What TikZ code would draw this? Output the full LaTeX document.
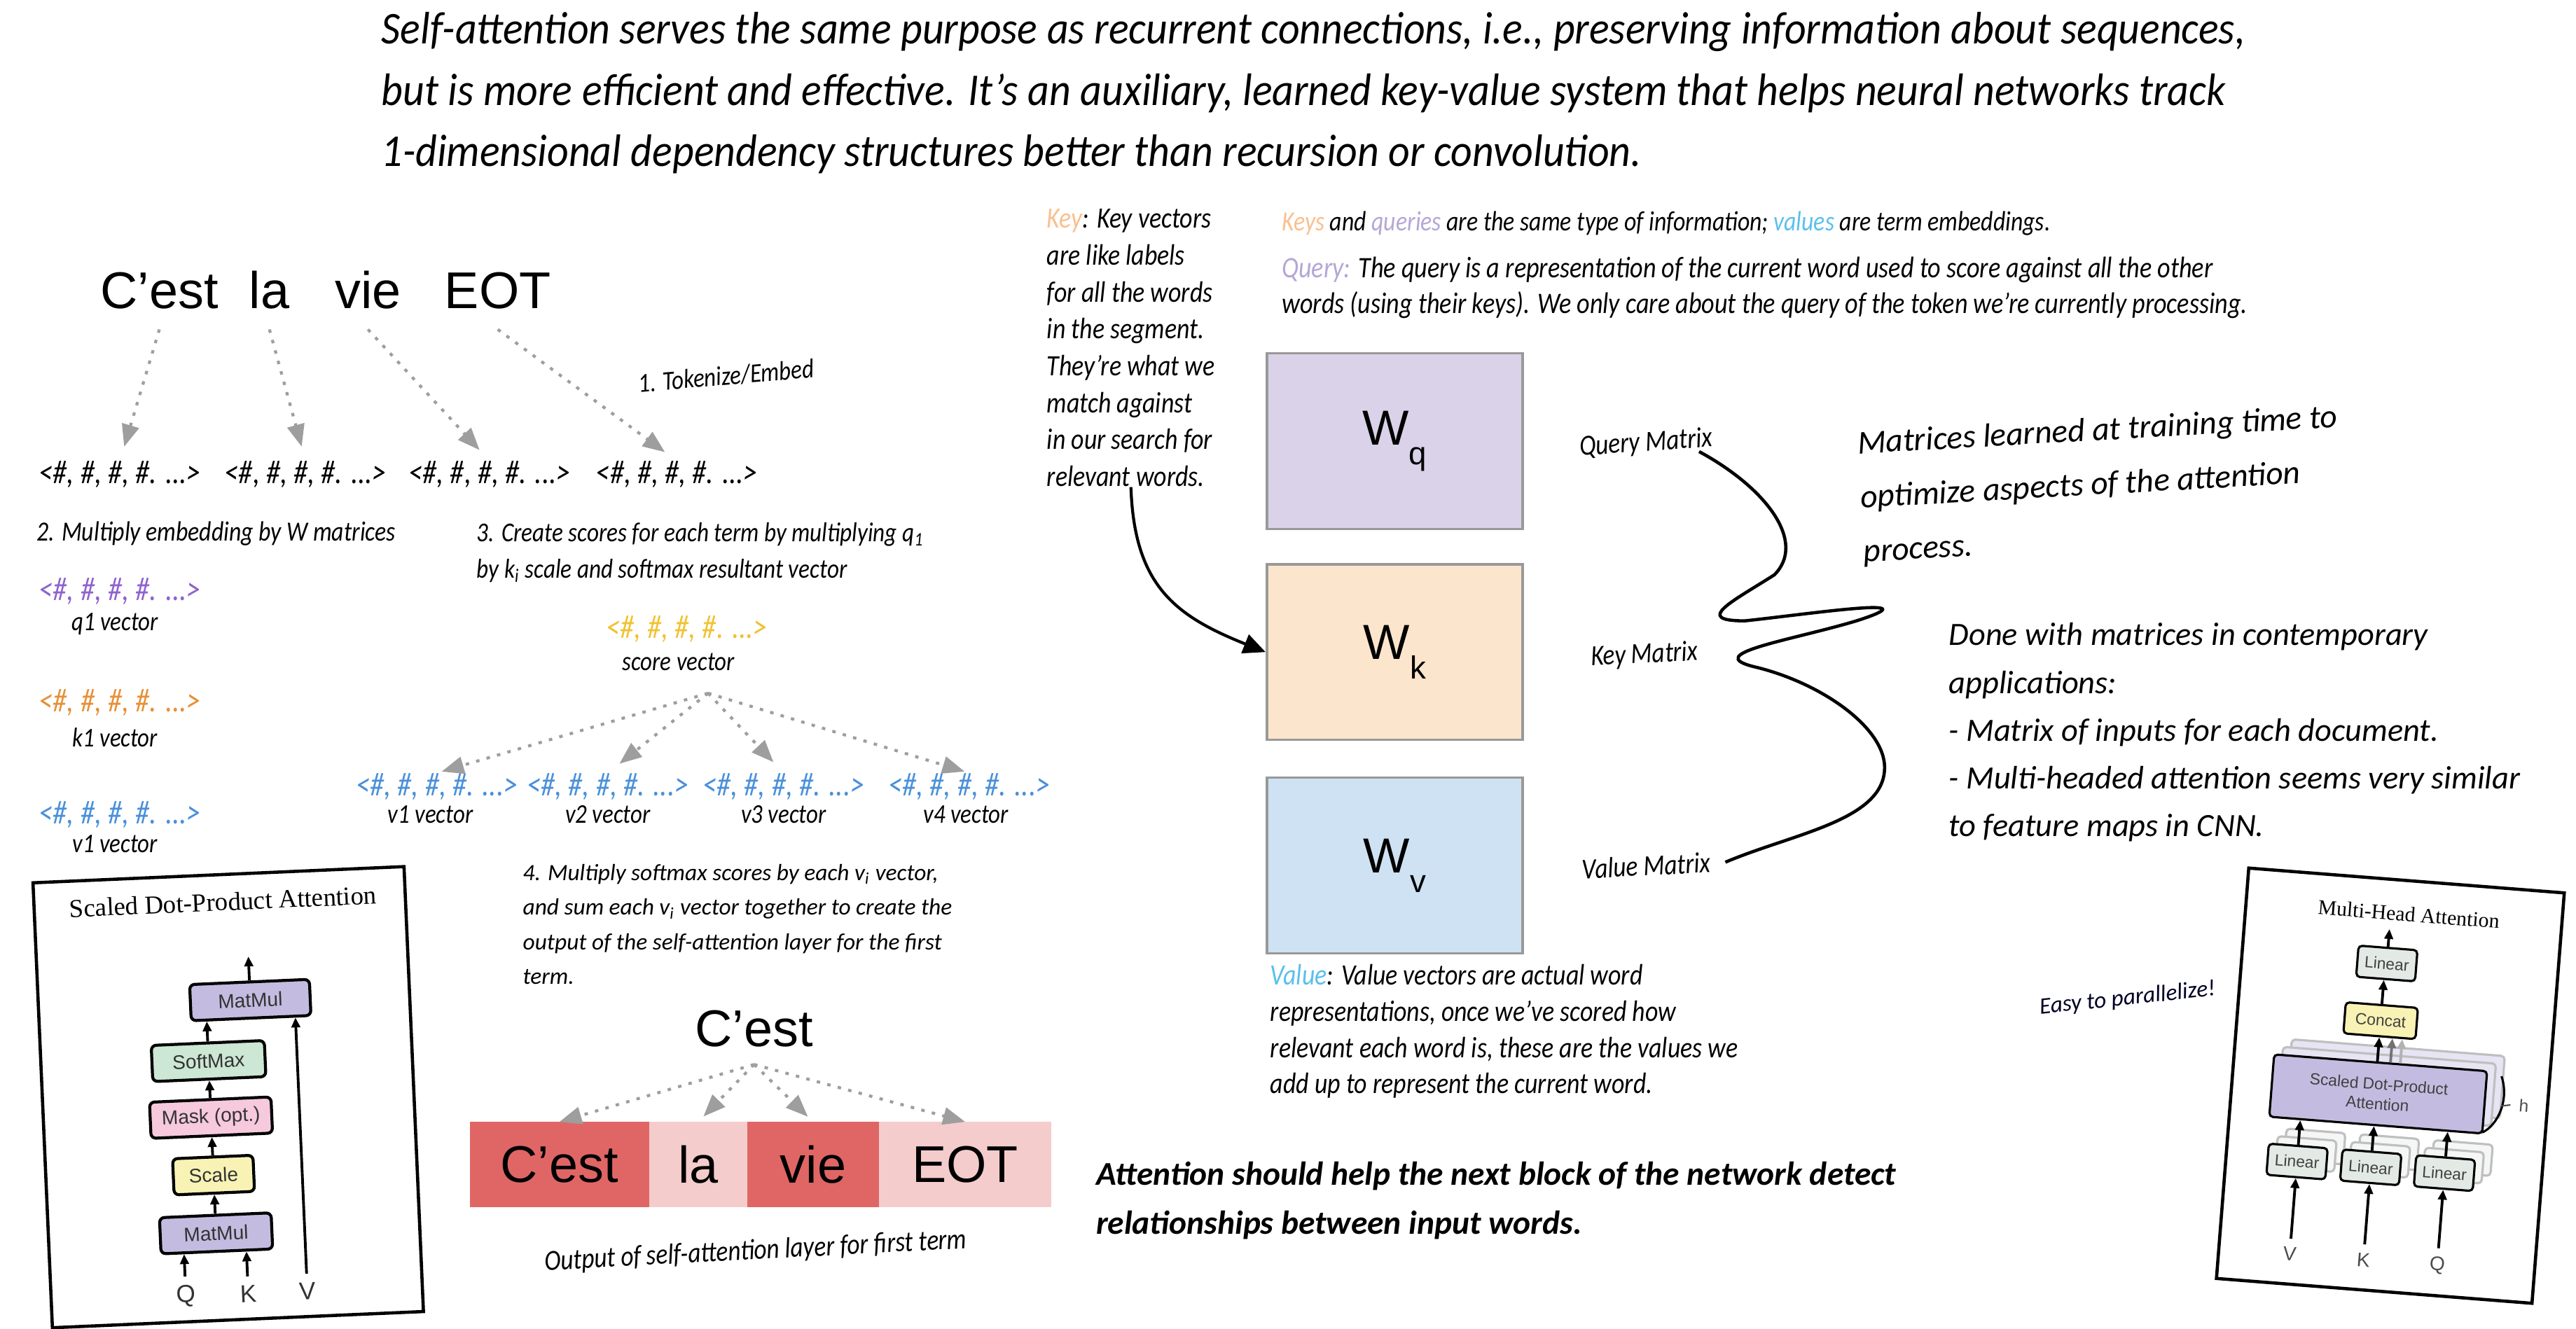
\documentclass[tikz,border=0pt]{standalone}
\usepackage{fontspec}
\setmainfont{Liberation Sans}
\newfontfamily\handfont{Carlito}[FakeStretch=0.85]
\newfontfamily\introfont{Carlito}[FakeStretch=0.92]
\newfontfamily\notefont{Carlito}
\newfontfamily\timesfont{Liberation Serif}
\usetikzlibrary{arrows.meta, positioning}

\definecolor{arrowgray}{HTML}{9E9E9E}
\definecolor{qpurple}{HTML}{8E63CE}
\definecolor{korange}{HTML}{E69138}
\definecolor{vblue}{HTML}{4A90D9}
\definecolor{syellow}{HTML}{F1C232}
\definecolor{keylight}{HTML}{F9C08F}
\definecolor{querylight}{HTML}{B4A7D6}
\definecolor{valuelight}{HTML}{5BC0EB}
\definecolor{attdark}{HTML}{E06666}
\definecolor{attlight}{HTML}{F4CCCC}
\definecolor{wqfill}{HTML}{D9D2E9}
\definecolor{wkfill}{HTML}{FCE5CD}
\definecolor{wvfill}{HTML}{CFE2F3}
\definecolor{mmfill}{HTML}{C4BCE0}
\definecolor{smfill}{HTML}{CCE7D3}
\definecolor{mkfill}{HTML}{F6C9DD}
\definecolor{scfill}{HTML}{F8F3B5}
\definecolor{linfill}{HTML}{E3EAE6}

\newcommand{\hashvec}{<\#, \#, \#, \#. ...>}
\newcommand{\wsub}[1]{\raisebox{-8pt}{\fontsize{13}{13}\selectfont #1}}

\tikzset{
  word/.style={font=\fontsize{21}{25}\selectfont, inner sep=0pt},
  hashv/.style={font=\handfont\itshape\fontsize{13.5}{15}\selectfont, inner sep=0pt},
  vlabel/.style={font=\handfont\itshape\fontsize{11}{12}\selectfont, inner sep=0pt},
  mlabel/.style={font=\handfont\itshape\fontsize{11.8}{13}\selectfont, inner sep=0pt},
  note/.style={font=\handfont\itshape\fontsize{12.1}{14.7}\selectfont, align=left, inner sep=0pt, anchor=north west},
  bignote/.style={font=\notefont\itshape\fontsize{13.5}{21}\selectfont, align=left, inner sep=0pt, anchor=north west},
  dotflow/.style={arrowgray, line width=1.2pt, dash pattern=on 1.4pt off 3pt, -{Triangle[length=9pt, width=7pt]}},
  matbox/.style={draw=black!40, line width=1pt, minimum width=104pt, minimum height=71.4pt, font=\fontsize{20}{24}\selectfont},
  barcell/.style={minimum height=34.7pt, inner sep=0pt, outer sep=0pt, font=\fontsize{21}{25}\selectfont},
  block/.style={draw=black, line width=1.2pt, rounded corners=2pt, font=\fontsize{8}{9}\selectfont, text=black!80, inner sep=0pt, minimum height=14.7pt},
  mblock/.style={draw=black, line width=0.9pt, rounded corners=1.5pt, font=\fontsize{6.5}{8}\selectfont, text=black!75, inner sep=0pt, minimum height=12.7pt, minimum width=24pt},
  ghost/.style={mblock, draw=black!25, fill=#1!40, text=black!0},
  blkarrow/.style={line width=1.1pt, -{Triangle[length=4pt, width=3.5pt]}},
}

\begin{document}
\begin{tikzpicture}[x=0.2346mm, y=-0.2346mm]
  \useasboundingbox (0,0) rectangle (1568,809);

  % intro paragraph
  \node[font=\introfont\itshape\fontsize{18.5}{25}\selectfont, align=left, inner sep=0pt, anchor=north west]
    (intro) at (232,7) {Self-attention serves the same purpose as recurrent connections, i.e., preserving information about sequences,\\
    but is more efficient and effective. It’s an auxiliary, learned key-value system that helps neural networks track\\
    1-dimensional dependency structures better than recursion or convolution.};

  % tokens and embeddings
  \node[word, anchor=base] (tok1) at (97,188) {C’est};
  \node[word, anchor=base] (tok2) at (164,188) {la};
  \node[word, anchor=base] (tok3) at (224,188) {vie};
  \node[word, anchor=base] (tok4) at (303,188) {EOT};

  \node[hashv] (emb1) at (73,289) {\hashvec};
  \node[hashv] (emb2) at (186,289) {\hashvec};
  \node[hashv] (emb3) at (298,289) {\hashvec};
  \node[hashv] (emb4) at (412,289) {\hashvec};

  \draw[dotflow, shorten >=6pt] ([yshift=-8pt]tok1.south) -- (emb1.north);
  \draw[dotflow, shorten >=6pt] ([yshift=-8pt]tok2.south) -- (emb2.north);
  \draw[dotflow, shorten >=6pt] ([yshift=-8pt]tok3.south) -- (emb3.north);
  \draw[dotflow, shorten >=6pt] ([yshift=-8pt]tok4.south) -- (emb4.north);

  \node[vlabel, rotate=5] (tokstep) at (442,229) {1. Tokenize/Embed};

  % step 2: q, k, v of the first term
  \node[note, anchor=west, font=\handfont\itshape\fontsize{11.3}{14.7}\selectfont] (step2) at (22,325) {2. Multiply embedding by W matrices};
  \node[hashv, text=qpurple] (qvec) at (73,360) {\hashvec};
  \node[vlabel] (qlab) at (70,380) {q1 vector};
  \node[hashv, text=korange] (kvec) at (73,428) {\hashvec};
  \node[vlabel] (klab) at (70,449) {k1 vector};
  \node[hashv, text=vblue] (vvec) at (73,496) {\hashvec};
  \node[vlabel] (vlab) at (70,514) {v1 vector};

  % step 3: scores
  \node[note, font=\handfont\itshape\fontsize{11.1}{14.7}\selectfont] (step3) at (290,318) {3. Create scores for each term by multiplying q\textsubscript{1}\\by k\textsubscript{i} scale and softmax resultant vector};
  \node[hashv, text=syellow] (score) at (418,383) {\hashvec};
  \node[vlabel] (scorelab) at (413,403) {score vector};

  \node[hashv, text=vblue] (vv1) at (266,479) {\hashvec};
  \node[hashv, text=vblue] (vv2) at (370,479) {\hashvec};
  \node[hashv, text=vblue] (vv3) at (477,479) {\hashvec};
  \node[hashv, text=vblue] (vv4) at (590,479) {\hashvec};
  \node[vlabel] (vl1) at (262,496) {v1 vector};
  \node[vlabel] (vl2) at (370,496) {v2 vector};
  \node[vlabel] (vl3) at (477,496) {v3 vector};
  \node[vlabel] (vl4) at (588,496) {v4 vector};

  \coordinate (sroot) at ([xshift=12pt, yshift=-9pt]scorelab.south);
  \draw[dotflow, shorten >=2pt] (sroot) -- (vv1.north);
  \draw[dotflow, shorten >=6pt] (sroot) -- (vv2.north);
  \draw[dotflow, shorten >=6pt] (sroot) -- (vv3.north);
  \draw[dotflow, shorten >=2pt] (sroot) -- (vv4.north);

  % step 4: output for the first term
  \node[note, font=\notefont\itshape\fontsize{9.5}{14}\selectfont] (step4) at (318,526)
    {4. Multiply softmax scores by each v\textsubscript{i} vector,\\and sum each v\textsubscript{i} vector together to create the\\output of the self-attention layer for the first\\term.};

  \node[word, anchor=base] (outword) at (459,637) {C’est};
  \node[barcell, fill=attdark, minimum width=72.8pt, anchor=west] (cell1) at (286,709) {C’est};
  \node[barcell, fill=attlight, minimum width=40pt, right=0pt of cell1] (cell2) {la};
  \node[barcell, fill=attdark, minimum width=53.4pt, right=0pt of cell2] (cell3) {vie};
  \node[barcell, fill=attlight, minimum width=70.1pt, right=0pt of cell3] (cell4) {EOT};

  \coordinate (oroot) at ([yshift=-7pt]outword.south);
  \draw[dotflow] (oroot) -- (cell1.north);
  \draw[dotflow, shorten >=3pt] (oroot) -- (cell2.north);
  \draw[dotflow, shorten >=3pt] (oroot) -- (cell3.north);
  \draw[dotflow] (oroot) -- (cell4.north);

  \node[mlabel, rotate=3] (outlab) at (460,762) {Output of self-attention layer for first term};

  % scaled dot-product attention figure
  \begin{scope}[rotate around={2.5:(139,670)}, transform shape]
    \node[draw, line width=1.3pt, minimum width=150.9pt, minimum height=181pt] (sdpa) at (139,668) {};
    \node[font=\timesfont\fontsize{10.5}{12}\selectfont] (sdpatitle) at (141,549) {Scaled Dot-Product Attention};
    \node[block, fill=mmfill, minimum width=48.7pt] (mm2) at (155,609.5) {MatMul};
    \node[block, fill=smfill, minimum width=46pt] (soft) at (128,645.5) {SoftMax};
    \node[block, fill=mkfill, minimum width=49.4pt] (mask) at (128,680) {Mask (opt.)};
    \node[block, fill=scfill, minimum width=32.7pt] (scale) at (128,715) {Scale};
    \node[block, fill=mmfill, minimum width=45.4pt] (mm1) at (128,750.5) {MatMul};
    \node[font=\fontsize{10}{12}\selectfont, text=black!80] (inQ) at (108,788) {Q};
    \node[font=\fontsize{10}{12}\selectfont, text=black!80] (inK) at (146,788) {K};
    \node[font=\fontsize{10}{12}\selectfont, text=black!80] (inV) at (182,788) {V};
    \coordinate (sdpaout) at (155,583);

    \draw[blkarrow] (inQ.north) -- (inQ.north |- mm1.south);
    \draw[blkarrow] (inK.north) -- (inK.north |- mm1.south);
    \draw[blkarrow] (mm1.north) -- (scale.south);
    \draw[blkarrow] (scale.north) -- (mask.south);
    \draw[blkarrow] (mask.north) -- (soft.south);
    \draw[blkarrow] (soft.north) -- (soft.north |- mm2.south);
    \draw[blkarrow] (inV.north) -- (inV.north |- mm2.south);
    \draw[blkarrow] (mm2.north) -- (sdpaout);
  \end{scope}

  % key / query / value notes
  \node[note, font=\handfont\itshape\fontsize{12}{15}\selectfont] (keynote) at (637,127) {{\color{keylight}Key}: Key vectors\\are like labels\\for all the words\\in the segment.\\They’re what we\\match against\\in our search for\\relevant words.};
  \node[note, anchor=west, font=\handfont\itshape\fontsize{11.3}{14.7}\selectfont] (kqline) at (780,136) {{\color{keylight}Keys} and {\color{querylight}queries} are the same type of information; {\color{valuelight}values} are term embeddings.};
  \node[note] (querynote) at (780,156) {{\color{querylight}Query:} The query is a representation of the current word used to score against all the other\\words (using their keys). We only care about the query of the token we’re currently processing.};
  \node[note, font=\handfont\itshape\fontsize{12}{14.7}\selectfont] (valuenote) at (773,587) {{\color{valuelight}Value}: Value vectors are actual word\\representations, once we’ve scored how\\relevant each word is, these are the values we\\add up to represent the current word.};

  % weight matrices
  \node[matbox, fill=wqfill] (Wq) at (849,268.5) {W\wsub{q}};
  \node[matbox, fill=wkfill] (Wk) at (849,397) {W\wsub{k}};
  \node[matbox, fill=wvfill] (Wv) at (849,527) {W\wsub{v}};

  \draw[line width=1.2pt, -{Triangle[length=9pt, width=8pt]}] (keynote.south) .. controls +(2,60) and +(-55,-22) .. (Wk.west);

  \node[mlabel, rotate=4] (qmlab) at (1002,270) {Query Matrix};
  \node[mlabel, rotate=3] (kmlab) at (1001,399) {Key Matrix};
  \node[mlabel, rotate=3] (vmlab) at (1002,527) {Value Matrix};

  \draw[line width=1.3pt] ([xshift=-6pt]qmlab.south east)
    .. controls (1075,297) and (1100,330) .. (1080,350)
    .. controls (1055,366) and (1030,378) .. (1062,378)
    .. controls (1100,374) and (1180,362) .. (1130,378)
    .. controls (1090,390) and (1035,398) .. (1068,406)
    .. controls (1110,416) and (1150,445) .. (1147,470)
    .. controls (1144,500) and (1090,508) .. ([xshift=6pt]vmlab.east);

  % side remarks
  \node[bignote, rotate=3.2, font=\notefont\itshape\fontsize{13.5}{22}\selectfont] (learned) at (1130,262) {Matrices learned at training time to\\optimize aspects of the attention\\process.};
  \node[bignote, font=\notefont\itshape\fontsize{13.2}{19.4}\selectfont] (contemp) at (1186,379) {Done with matrices in contemporary\\applications:\\- Matrix of inputs for each document.\\- Multi-headed attention seems very similar\\to feature maps in CNN.};
  \node[bignote, font=\notefont\bfseries\itshape\fontsize{13.5}{20}\selectfont] (detect) at (667,707) {Attention should help the next block of the network detect\\relationships between input words.};
  \node[font=\notefont\itshape\fontsize{9.5}{11}\selectfont, text=black!85!blue, rotate=6] (easy) at (1295,608) {Easy to parallelize!};

  % multi-head attention figure
  \begin{scope}[rotate around={-4.5:(1455,661)}, transform shape]
    \node[draw, line width=1.3pt, minimum width=128.6pt, minimum height=167.3pt] (mha) at (1455,661) {};
    \node[font=\timesfont\fontsize{8.5}{10}\selectfont] (mhatitle) at (1458,556) {Multi-Head Attention};
    \node[mblock, fill=linfill] (lintop) at (1447,587) {Linear};
    \node[mblock, fill=scfill, minimum width=29.4pt] (concat) at (1446,622) {Concat};
    \node[ghost=mmfill, minimum width=86.8pt, minimum height=25.4pt] at (1458,656.6) {};
    \node[ghost=mmfill, minimum width=86.8pt, minimum height=25.4pt] at (1453,661.6) {};
    \node[mblock, fill=mmfill, minimum width=86.8pt, minimum height=25.4pt, align=center] (mhsdpa) at (1448,666.6) {Scaled Dot-Product\\Attention};
    \node[ghost=linfill] at (1412,701.5) {};
    \node[ghost=linfill] at (1407,706.5) {};
    \node[mblock, fill=linfill] (linV) at (1402,711.5) {Linear};
    \node[ghost=linfill] at (1457,701.5) {};
    \node[ghost=linfill] at (1452,706.5) {};
    \node[mblock, fill=linfill] (linK) at (1447,711.5) {Linear};
    \node[ghost=linfill] at (1502,701.5) {};
    \node[ghost=linfill] at (1497,706.5) {};
    \node[mblock, fill=linfill] (linQ) at (1492,711.5) {Linear};
    \node[font=\fontsize{8}{9}\selectfont, text=black!70] (mV) at (1402,768) {V};
    \node[font=\fontsize{8}{9}\selectfont, text=black!70] (mK) at (1447,768) {K};
    \node[font=\fontsize{8}{9}\selectfont, text=black!70] (mQ) at (1492,768) {Q};
    \node[font=\fontsize{7}{8}\selectfont, text=black!70] (hlab) at (1537,667) {h};
    \coordinate (mhaout) at (1447,566);

    \draw[blkarrow] (mV.north) -- (mV.north |- linV.south);
    \draw[blkarrow] (mK.north) -- (mK.north |- linK.south);
    \draw[blkarrow] (mQ.north) -- (mQ.north |- linQ.south);
    \draw[blkarrow] (linV.north) -- (linV.north |- mhsdpa.south);
    \draw[blkarrow] (linK.north) -- (linK.north |- mhsdpa.south);
    \draw[blkarrow] (linQ.north) -- (linQ.north |- mhsdpa.south);
    \draw[blkarrow, black!30] ([xshift=8pt]mhsdpa.north) -- ([xshift=8pt]mhsdpa.north |- concat.south);
    \draw[blkarrow, black!55] ([xshift=4pt]mhsdpa.north) -- ([xshift=4pt]mhsdpa.north |- concat.south);
    \draw[blkarrow] (mhsdpa.north -| concat.south) -- (concat.south);
    \draw[blkarrow] (concat.north) -- (concat.north |- lintop.south);
    \draw[blkarrow] (lintop.north) -- (mhaout);
    \draw[line width=0.9pt] (1522,650) .. controls (1528,664) and (1522,680) .. (1513,685);
    \draw[line width=0.6pt, black!70] (1523,668) -- (hlab.west);
  \end{scope}

\end{tikzpicture}
\end{document}
